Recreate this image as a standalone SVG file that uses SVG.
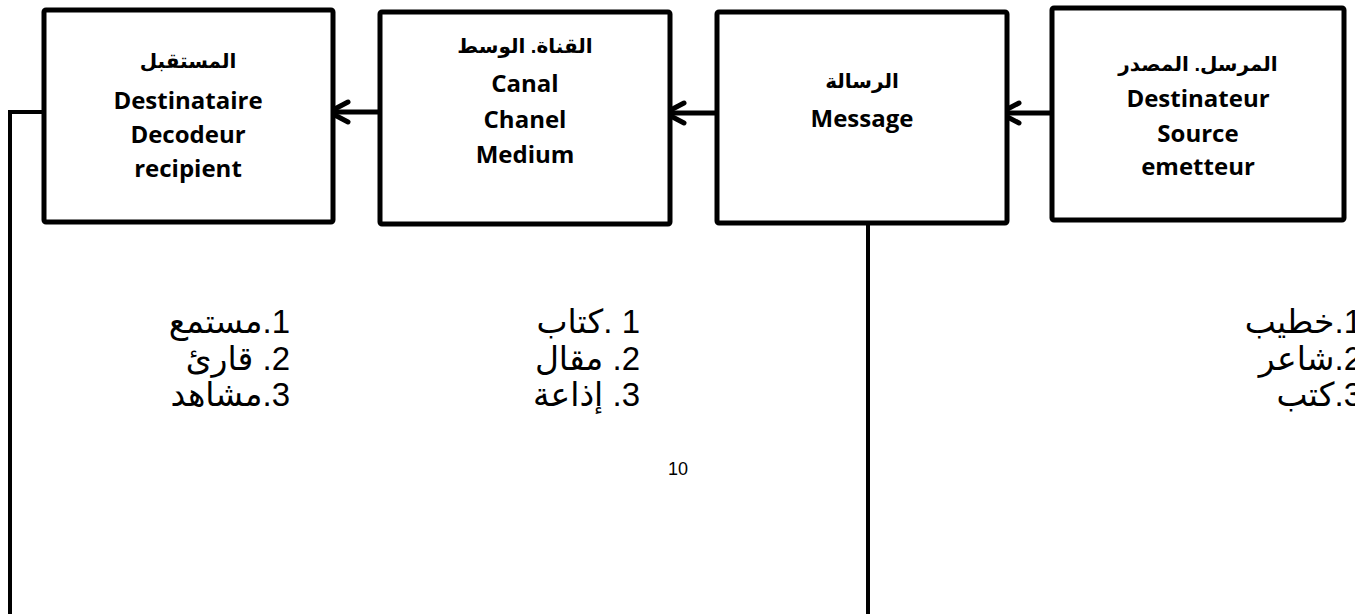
<svg xmlns="http://www.w3.org/2000/svg" width="1355" height="614" viewBox="0 0 1355 614">
<style>
.box{fill:#fff;stroke:#000;stroke-width:5;}
.t{font-family:"Open Sans","Liberation Sans",sans-serif;font-weight:bold;font-size:24px;text-anchor:middle;fill:#000;}
.ar{font-family:"Liberation Sans","DejaVu Sans",sans-serif;font-weight:bold;font-size:20px;text-anchor:middle;fill:#000;}
.ln{fill:none;stroke:#000;stroke-width:5;}
.fb{fill:none;stroke:#000;stroke-width:4;}
.hd{fill:none;stroke:#000;stroke-width:5;stroke-linecap:round;stroke-linejoin:round;}
.lst{font-family:"Liberation Sans","DejaVu Sans",sans-serif;font-size:33px;fill:#000;direction:rtl;unicode-bidi:embed;}
.pg{font-family:"Liberation Sans",sans-serif;font-size:18px;fill:#000;}
</style>
<rect width="1355" height="614" fill="#fff"/>
<g id="connectors">
<path class="fb" d="M44,112 H10 V614"/>
<path class="fb" d="M868,224 V614"/>
<path class="ln" d="M1052,113 H1002"/>
<path class="hd" d="M1019,103 L1000,113 L1019,123"/>
<path class="ln" d="M717,113 H668"/>
<path class="hd" d="M684,103 L665,113 L684,123"/>
<path class="ln" d="M380,112 H332"/>
<path class="hd" d="M348,102 L329,112 L348,122"/>
</g>
<g id="node-receiver">
<rect class="box" x="44" y="10" width="289" height="212" rx="2"/>
<text class="ar" x="188" y="68">المستقبل</text>
<text class="t" x="188" y="109">Destinataire</text>
<text class="t" x="188" y="143">Decodeur</text>
<text class="t" x="188" y="177">recipient</text>
</g>
<g id="node-channel">
<rect class="box" x="380" y="12" width="290" height="212" rx="2"/>
<text class="ar" x="525" y="53">القناة. الوسط</text>
<text class="t" x="525" y="92">Canal</text>
<text class="t" x="525" y="128">Chanel</text>
<text class="t" x="525" y="163">Medium</text>
</g>
<g id="node-message">
<rect class="box" x="717" y="12" width="290" height="211" rx="2"/>
<text class="ar" x="862" y="88">الرسالة</text>
<text class="t" x="862" y="127">Message</text>
</g>
<g id="node-sender">
<rect class="box" x="1052" y="8" width="292" height="212" rx="2"/>
<text class="ar" x="1198" y="71">المرسل. المصدر</text>
<text class="t" x="1198" y="107">Destinateur</text>
<text class="t" x="1198" y="142">Source</text>
<text class="t" x="1198" y="175">emetteur</text>
</g>
<g id="lists">
<text class="lst" x="290" y="333">1.مستمع</text>
<text class="lst" x="290" y="370">2. قارئ</text>
<text class="lst" x="290" y="406">3.مشاهد</text>
<text class="lst" x="640" y="333">1 .كتاب</text>
<text class="lst" x="640" y="370">2. مقال</text>
<text class="lst" x="640" y="406">3. إذاعة</text>
<text class="lst" x="1362" y="333">1.خطيب</text>
<text class="lst" x="1362" y="370">2.شاعر</text>
<text class="lst" x="1362" y="406">3.كتب</text>
<text class="pg" x="668" y="475">10</text>
</g>
</svg>
